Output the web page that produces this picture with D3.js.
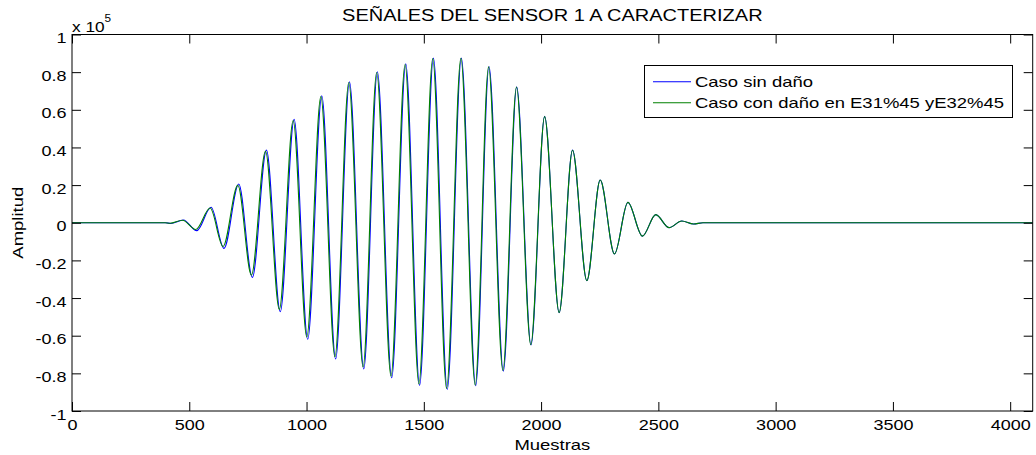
<!DOCTYPE html>
<html>
<head>
<meta charset="utf-8">
<script src="https://cdn.jsdelivr.net/npm/d3@7"></script>
<style>
  html, body { margin: 0; padding: 0; background: #fff; }
  svg text { font-family: "Liberation Sans", Arial, Helvetica, sans-serif; fill: #000; }
</style>
</head>
<body>
<svg id="chart" width="1036" height="455"></svg>
<script>
// ---- data ----
const title = "SEÑALES DEL SENSOR 1 A CARACTERIZAR";
const xLabel = "Muestras";
const yLabel = "Amplitud";
const seriesNames = ["Caso sin daño", "Caso con daño en E31%45 yE32%45"];
const xTicks = [0, 500, 1000, 1500, 2000, 2500, 3000, 3500, 4000];
const yTicks = [-100000, -80000, -60000, -40000, -20000, 0, 20000, 40000, 60000, 80000, 100000];

// extrema of the undamaged signal (sample index, amplitude)
const sinDanoX = [0, 400, 421, 475, 532, 593, 648, 711, 769, 829, 888, 947, 1005, 1065, 1124, 1183, 1244, 1302, 1363, 1423, 1482, 1541, 1600, 1660, 1721, 1778, 1839, 1896, 1957, 2015, 2077, 2134, 2195, 2252, 2313, 2370, 2432, 2489, 2545, 2600, 2650, 2690, 4096];
const sinDanoY = [0, 0, -400, 1500, -4200, 8200, -13600, 20600, -29000, 38600, -47300, 54900, -61900, 67500, -72400, 74900, -77700, 80200, -82300, 84500, -86400, 87500, -88500, 87500, -86600, 83000, -78800, 72200, -64900, 56500, -47800, 38600, -30800, 22700, -16600, 10800, -7100, 4300, -2600, 900, -700, 0, 0];

// extrema of the damaged signal
const conDanoX = [0, 396, 417, 471, 528, 589, 644, 707, 765, 825, 884, 943, 1001, 1061, 1121, 1180, 1241, 1299, 1360, 1420, 1479, 1538, 1597, 1658, 1719, 1776, 1837, 1895, 1956, 2015, 2077, 2134, 2195, 2252, 2313, 2370, 2432, 2489, 2545, 2600, 2650, 2690, 4096];
const conDanoY = [0, 0, -300, 1300, -3600, 7800, -12600, 19900, -27800, 38000, -46000, 54300, -60700, 67000, -71200, 74500, -76600, 79800, -81500, 84100, -85600, 87200, -88000, 87300, -86200, 82800, -78500, 72100, -64800, 56400, -47700, 38500, -30700, 22700, -16600, 10800, -7100, 4300, -2600, 900, -700, 0, 0];

const colors = ["#0000ff", "#008000"];

// ---- layout ----
const svg = d3.select("#chart");
const L = 72, R = 1032.7, T = 34.5, B = 411;
const x = d3.scaleLinear().domain([0, 4096]).range([L, R]);
const y = d3.scaleLinear().domain([-100000, 100000]).range([B, T]);
const fs = 15.4;

// horizontal stretch to mimic the wide rendering of the reference font
function stretch(sel, sx) {
  sel.each(function () {
    const t = d3.select(this);
    const tx = +(t.attr("x") || 0), ty = +(t.attr("y") || 0);
    const prev = t.attr("transform") || "";
    t.attr("x", 0).attr("y", 0).attr("transform", `${prev} translate(${tx},${ty}) scale(${sx},1)`);
  });
}

const yFmt = d => String(+(d / 100000).toFixed(1));

// lines
const line = d3.line().x(d => x(d[0])).y(d => y(d[1])).curve(d3.curveMonotoneX);
const s1 = sinDanoX.map((v, i) => [v, sinDanoY[i]]);
const s2 = conDanoX.map((v, i) => [v, conDanoY[i]]);
svg.append("clipPath").attr("id", "clip").append("rect").attr("x", L).attr("y", T).attr("width", R - L).attr("height", B - T);
const pg = svg.append("g").attr("clip-path", "url(#clip)");
pg.append("path").datum(s1).attr("d", line).attr("fill", "none").attr("stroke", colors[0]).attr("stroke-width", 1.1);
pg.append("path").datum(s2).attr("d", line).attr("fill", "none").attr("stroke", colors[1]).attr("stroke-width", 1.1);

// axes (MATLAB style: inward ticks, box)
const tk = 9;
const axB = svg.append("g").attr("transform", `translate(0,${B})`)
  .call(d3.axisBottom(x).tickValues(xTicks).tickSizeInner(-tk).tickSizeOuter(0).tickPadding(8).tickFormat(d3.format("d")));
const axT = svg.append("g").attr("transform", `translate(0,${T})`)
  .call(d3.axisTop(x).tickValues(xTicks).tickSizeInner(-tk).tickSizeOuter(0).tickFormat(""));
const axL = svg.append("g").attr("transform", `translate(${L},0)`)
  .call(d3.axisLeft(y).tickValues(yTicks).tickSizeInner(-tk).tickSizeOuter(0).tickPadding(5.5).tickFormat(yFmt));
const axR = svg.append("g").attr("transform", `translate(${R},0)`)
  .call(d3.axisRight(y).tickValues(yTicks).tickSizeInner(-tk).tickSizeOuter(0).tickFormat(""));
[axB, axT, axL, axR].forEach(a => {
  a.selectAll(".domain").remove();
  a.selectAll("line").attr("stroke", "#000").attr("stroke-width", 1);
  a.selectAll("text").attr("font-size", fs).attr("font-family", "Liberation Sans, Arial, sans-serif").attr("fill", "#000");
});
axL.selectAll("text").attr("dy", "0.52em");
stretch(axB.selectAll("text"), 1.17);
stretch(axL.selectAll("text"), 1.17);
svg.append("rect").attr("x", L).attr("y", T).attr("width", R - L).attr("height", B - T)
  .attr("fill", "none").attr("stroke", "#000").attr("stroke-width", 1);

// exponent label
const ex = svg.append("text").attr("x", L).attr("y", 31.5).attr("font-size", fs);
ex.append("tspan").text("x 10");
ex.append("tspan").attr("dy", -10).attr("font-size", 10.5).text("5");
stretch(ex, 1.12);

// title and axis labels
const tt = svg.append("text").attr("x", (L + R) / 2).attr("y", 21).attr("text-anchor", "middle").attr("font-size", 16).text(title);
stretch(tt, 1.25);
const xl = svg.append("text").attr("x", (L + R) / 2).attr("y", 450).attr("text-anchor", "middle").attr("font-size", fs).text(xLabel);
stretch(xl, 1.2);
const yl = svg.append("text").attr("transform", `translate(23,${(T + B) / 2}) rotate(-90) scale(1.2,1)`).attr("text-anchor", "middle").attr("font-size", fs).text(yLabel);

// legend
const lg = svg.append("g");
lg.append("rect").attr("x", 644.5).attr("y", 65.5).attr("width", 368).attr("height", 52)
  .attr("fill", "#fff").attr("stroke", "#000").attr("stroke-width", 1);
seriesNames.forEach((n, i) => {
  const yy = 81.7 + i * 21;
  lg.append("line").attr("x1", 653).attr("x2", 691).attr("y1", yy).attr("y2", yy).attr("stroke", colors[i]).attr("stroke-width", 1.1);
  const t = lg.append("text").attr("x", 695).attr("y", yy).attr("dy", "0.36em").attr("font-size", fs).text(n);
  stretch(t, 1.2);
});
</script>
</body>
</html>
